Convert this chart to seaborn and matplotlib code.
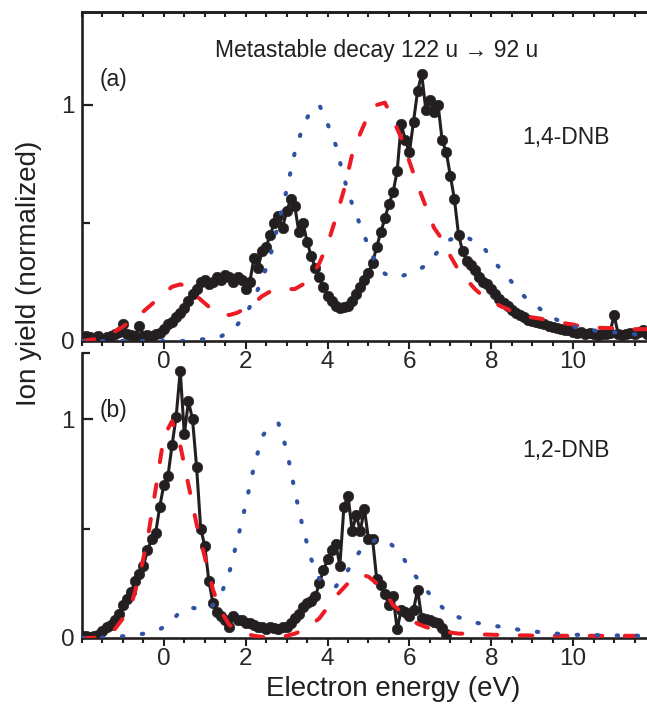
import numpy as np
import matplotlib
matplotlib.use("Agg")
import matplotlib.pyplot as plt
from matplotlib.ticker import FixedLocator, MultipleLocator
import seaborn as sns

# ---------------- data ----------------
# energy grids (eV)
energy_exp_a = np.round(np.linspace(-2.0, 11.8, 139), 2)   # 0.1 eV steps
energy_exp_b = np.round(np.linspace(-2.0, 6.9, 90), 2)     # 0.1 eV steps
energy_calc = np.round(np.linspace(-2.0, 11.8, 70), 2)     # 0.2 eV steps

# (a) 1,4-DNB experimental ion yield
yield_exp_a = [
    0.015, 0.02, 0.015, 0.01, 0.02, 0.01, 0.015, 0.02, 0.03, 0.04,
    0.07, 0.03, 0.025, 0.02, 0.065, 0.02, 0.025, 0.02, 0.03, 0.035,
    0.05, 0.07, 0.08, 0.10, 0.12, 0.14, 0.17, 0.20, 0.22, 0.25,
    0.26, 0.24, 0.25, 0.27, 0.26, 0.28, 0.27, 0.25, 0.27, 0.26,
    0.22, 0.25, 0.35, 0.31, 0.38, 0.40, 0.45, 0.50, 0.53, 0.48,
    0.55, 0.60, 0.57, 0.46, 0.50, 0.42, 0.36, 0.31, 0.27, 0.23,
    0.19, 0.17, 0.15, 0.14, 0.145, 0.15, 0.17, 0.20, 0.23, 0.26,
    0.29, 0.33, 0.40, 0.46, 0.52, 0.58, 0.63, 0.72, 0.92, 0.85,
    0.80, 0.93, 1.06, 1.13, 0.98, 1.02, 0.97, 1.00, 0.85, 0.80,
    0.70, 0.60, 0.45, 0.38, 0.34, 0.32, 0.30, 0.27, 0.25, 0.24,
    0.22, 0.20, 0.18, 0.16, 0.15, 0.13, 0.12, 0.11, 0.10, 0.09,
    0.085, 0.08, 0.075, 0.07, 0.065, 0.06, 0.055, 0.05, 0.048, 0.045,
    0.04, 0.035, 0.04, 0.03, 0.035, 0.03, 0.025, 0.03, 0.03, 0.035,
    0.11, 0.03, 0.025, 0.03, 0.035, 0.03, 0.04, 0.045, 0.03,
]
# (a) calculated curves
red_calc_a = [
    0.0, 0.005, 0.01, 0.02, 0.04, 0.06, 0.09, 0.11, 0.14, 0.17,
    0.20, 0.23, 0.24, 0.23, 0.19, 0.16, 0.13, 0.115, 0.11, 0.12,
    0.14, 0.16, 0.19, 0.21, 0.22, 0.22, 0.22, 0.24, 0.27, 0.33,
    0.41, 0.52, 0.64, 0.79, 0.88, 0.96, 1.0, 1.01, 0.94, 0.86,
    0.76, 0.66, 0.57, 0.48, 0.43, 0.36, 0.30, 0.26, 0.22, 0.19,
    0.17, 0.15, 0.135, 0.115, 0.105, 0.10, 0.095, 0.085, 0.08, 0.075,
    0.07, 0.06, 0.058, 0.056, 0.055, 0.055, 0.053, 0.05, 0.05, 0.05,
]
blue_calc_a = [
    0.0, 0.0, 0.0, 0.0, 0.0, 0.0, 0.0, 0.0, 0.0, 0.0,
    0.0, 0.0, 0.0, 0.0, 0.005, 0.008, 0.012, 0.02, 0.04, 0.07,
    0.11, 0.18, 0.26, 0.36, 0.50, 0.64, 0.80, 0.91, 0.98, 1.0,
    0.92, 0.83, 0.69, 0.58, 0.49, 0.40, 0.32, 0.285, 0.27, 0.275,
    0.285, 0.30, 0.32, 0.36, 0.40, 0.43, 0.44, 0.44, 0.42, 0.40,
    0.35, 0.31, 0.27, 0.23, 0.19, 0.16, 0.135, 0.11, 0.09, 0.075,
    0.06, 0.055, 0.048, 0.042, 0.04, 0.037, 0.035, 0.03, 0.027, 0.025,
]

# (b) 1,2-DNB experimental ion yield
yield_exp_b = [
    0.01, 0.01, 0.005, 0.01, 0.015, 0.03, 0.05, 0.06, 0.08, 0.11,
    0.15, 0.18, 0.21, 0.26, 0.29, 0.33, 0.40, 0.45, 0.48, 0.60,
    0.70, 0.74, 0.88, 1.01, 1.22, 0.93, 1.08, 1.00, 0.78, 0.50,
    0.42, 0.26, 0.16, 0.12, 0.10, 0.08, 0.05, 0.10, 0.08, 0.08,
    0.07, 0.07, 0.06, 0.05, 0.05, 0.04, 0.05, 0.045, 0.04, 0.05,
    0.05, 0.07, 0.09, 0.11, 0.14, 0.16, 0.17, 0.19, 0.25, 0.31,
    0.36, 0.40, 0.43, 0.33, 0.60, 0.65, 0.49, 0.56, 0.49, 0.59,
    0.45, 0.45, 0.27, 0.24, 0.20, 0.15, 0.19, 0.04, 0.13, 0.12,
    0.10, 0.13, 0.22, 0.09, 0.085, 0.08, 0.075, 0.07, 0.045, 0.02,
]
# (b) calculated curves
red_calc_b = [
    0.0, 0.0, 0.003, 0.015, 0.04, 0.09, 0.15, 0.28, 0.45, 0.68,
    0.92, 0.99, 0.88, 0.70, 0.52, 0.37, 0.22, 0.12, 0.06, 0.035,
    0.02, 0.01, 0.005, 0.003, 0.005, 0.01, 0.02, 0.035, 0.06, 0.09,
    0.14, 0.19, 0.23, 0.27, 0.29, 0.28, 0.25, 0.21, 0.15, 0.12,
    0.09, 0.065, 0.05, 0.04, 0.03, 0.025, 0.02, 0.02, 0.018, 0.016,
    0.015, 0.014, 0.013, 0.012, 0.012, 0.011, 0.01, 0.01, 0.01, 0.01,
    0.01, 0.01, 0.01, 0.01, 0.01, 0.01, 0.01, 0.01, 0.01, 0.01,
]
blue_calc_b = [
    0.0, 0.0, 0.0, 0.003, 0.005, 0.008, 0.012, 0.017, 0.022, 0.03,
    0.05, 0.08, 0.12, 0.14, 0.135, 0.13, 0.15, 0.20, 0.30, 0.45,
    0.61, 0.78, 0.92, 0.97, 0.98, 0.86, 0.67, 0.50, 0.36, 0.27,
    0.24, 0.235, 0.28, 0.34, 0.40, 0.43, 0.45, 0.45, 0.42, 0.38,
    0.32, 0.27, 0.22, 0.18, 0.14, 0.11, 0.095, 0.08, 0.07, 0.065,
    0.058, 0.052, 0.046, 0.04, 0.035, 0.03, 0.027, 0.022, 0.02, 0.017,
    0.015, 0.014, 0.013, 0.013, 0.012, 0.012, 0.011, 0.011, 0.01, 0.01,
]

x_major_ticks = [0, 2, 4, 6, 8, 10]
x_tick_labels = ["0", "2", "4", "6", "8", "10"]
y_major_ticks = [0, 1]
y_tick_labels = ["0", "1"]

title_text = "Metastable decay 122 u \u2192 92 u"
label_a, label_b = "(a)", "(b)"
molecule_a, molecule_b = "1,4-DNB", "1,2-DNB"
xlabel = "Electron energy (eV)"
ylabel = "Ion yield (normalized)"

# ---------------- style ----------------
sns.set_style("ticks")
plt.rcParams["font.family"] = ["Liberation Sans", "DejaVu Sans"]
plt.rcParams["lines.scale_dashes"] = False

BLACK = "#231F20"
RED = "#ED1C24"
BLUE = "#2F52A4"
TICK_FS = 17.5
TEXT_FS = 16.5
LABEL_FS = 20

W, H = 647, 706
fig = plt.figure(figsize=(W / 100, H / 100), dpi=100)

left = 82 / W
width = (655 - 82) / W
ax_a = fig.add_axes([left, 1 - 341 / H, width, (341 - 12) / H])
ax_b = fig.add_axes([left, 1 - 638 / H, width, (638 - 353) / H])
for ax in (ax_a, ax_b):
    ax.patch.set_alpha(0)


def draw(ax, xe, ye, xc, yr, yb):
    sns.lineplot(x=xe, y=ye, ax=ax, color=BLACK, linewidth=2.2, marker="o",
                 markersize=7.6, markeredgecolor=BLACK, markerfacecolor=BLACK,
                 markeredgewidth=0.4, errorbar=None, zorder=2)
    # dash lengths given directly in points (unscaled)
    sns.lineplot(x=xc, y=yr, ax=ax, color=RED, linewidth=2.9,
                 errorbar=None, zorder=3)
    red_line = ax.lines[-1]
    red_line.set_dashes([9.0, 16.2])
    red_line.set_dash_capstyle("round")
    sns.lineplot(x=xc, y=yb, ax=ax, color=BLUE, linewidth=3.0,
                 errorbar=None, zorder=4)
    blue_line = ax.lines[-1]
    blue_line.set_dashes([1.0, 13.4])
    blue_line.set_dash_capstyle("round")


draw(ax_a, energy_exp_a, yield_exp_a, energy_calc, red_calc_a, blue_calc_a)
draw(ax_b, energy_exp_b, yield_exp_b, energy_calc, red_calc_b, blue_calc_b)

ax_a.set_xlim(-2, 12)
ax_b.set_xlim(-2, 12)
ax_a.set_ylim(0, 329 / 236)
ax_b.set_ylim(0, 285 / 219)

for ax in (ax_a, ax_b):
    ax.set_xlabel("")
    ax.set_ylabel("")
    ax.spines["right"].set_visible(False)
    for s in ax.spines.values():
        s.set_linewidth(1.9)
        s.set_color(BLACK)
    ax.set_xticks(x_major_ticks)
    ax.set_xticklabels(x_tick_labels)
    ax.xaxis.set_minor_locator(MultipleLocator(0.5))
    ax.tick_params(axis="x", which="major", direction="out", length=5.5,
                   width=1.5, labelsize=TICK_FS, pad=2, color=BLACK,
                   top=False, bottom=True)
    ax.tick_params(axis="x", which="minor", direction="out", length=3.5,
                   width=1.5, top=False, bottom=True, color=BLACK)
    ax.set_yticks(y_major_ticks)
    ax.set_yticklabels(y_tick_labels)
    ax.tick_params(axis="y", which="major", direction="in", length=8,
                   width=1.6, labelsize=TICK_FS, pad=5, color=BLACK,
                   right=False)
    ax.tick_params(axis="y", which="minor", direction="in", length=5.5,
                   width=1.6, right=False, color=BLACK)

ax_a.yaxis.set_minor_locator(FixedLocator([0.5]))
ax_b.yaxis.set_minor_locator(FixedLocator([0.5, 285 / 219]))
ax_b.spines["top"].set_visible(False)

# inward ticks on the top spine of panel (a)
sec = ax_a.secondary_xaxis("top")
sec.set_xticks(x_major_ticks)
sec.xaxis.set_minor_locator(MultipleLocator(0.5))
sec.tick_params(axis="x", which="both", direction="in", length=3.5,
                width=1.5, labeltop=False, color=BLACK)
sec.spines["top"].set_linewidth(1.9)

# texts
ax_a.text(5.21, 1.233, title_text, fontsize=TEXT_FS, ha="center",
          va="center", color=BLACK)
ax_a.text(-1.22, 1.106, label_a, fontsize=TEXT_FS, ha="center",
          va="center", color=BLACK)
ax_a.text(9.83, 0.864, molecule_a, fontsize=TEXT_FS, ha="center",
          va="center", color=BLACK)
ax_b.text(-1.22, 1.04, label_b, fontsize=TEXT_FS, ha="center",
          va="center", color=BLACK)
ax_b.text(9.83, 0.858, molecule_b, fontsize=TEXT_FS, ha="center",
          va="center", color=BLACK)

fig.text(393 / W, 1 - 689 / H, xlabel, fontsize=LABEL_FS, ha="center",
         va="center", color=BLACK)
fig.text(29 / W, 1 - 273 / H, ylabel, fontsize=LABEL_FS, ha="center",
         va="center", rotation=90, color=BLACK)

fig.savefig("out.png", dpi=100)
